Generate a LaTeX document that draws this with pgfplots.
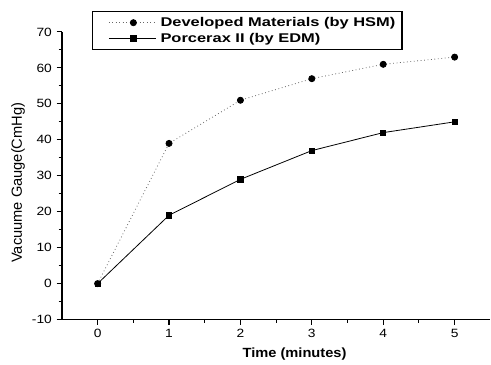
\documentclass[border=0pt]{standalone}
\usepackage{fontspec}
\setmainfont{Liberation Sans}
\newfontfamily\legfont{Liberation Sans Bold}[FakeStretch=1.3]
\newfontfamily\labfont{Liberation Sans Bold}[FakeStretch=1.1]
\newfontfamily\tickfont{Liberation Sans}[FakeStretch=1.15]
\usepackage{pgfplots}
\pgfplotsset{compat=1.18}
\begin{document}
\begin{tikzpicture}
\begin{axis}[
  scale only axis,
  width=321.75pt, height=216pt,
  xmin=-0.5, xmax=5.5, ymin=-10, ymax=70,
  axis x line=bottom, axis y line=left,
  axis line style={-, line width=1pt},
  xtick={0,1,2,3,4,5}, ytick={-10,0,10,20,30,40,50,60,70},
  minor x tick num=1, minor y tick num=1,
  tick align=outside,
  major tick length=4pt, minor tick length=2.5pt,
  tick style={line width=0.8pt, black},
  /pgf/number format/assume math mode=true,
  tick label style={font=\tickfont\fontsize{9}{10}\selectfont},
  xlabel={Time (minutes)},
  ylabel={Vacuume Gauge(CmHg)},
  xlabel style={font=\labfont\fontsize{10}{11}\selectfont, at={(axis description cs:0.543,0)}, anchor=center, yshift=-26pt},
  ylabel style={font=\fontsize{11}{12}\selectfont, at={([xshift=-33pt]axis description cs:0,0.476)}, anchor=center},
  legend style={at={(axis description cs:0.07,1.072)}, anchor=north west,
    font=\legfont\fontsize{9.5}{10}\selectfont, draw=black, line width=0.8pt,
    inner xsep=2pt, inner ysep=2pt, row sep=-0.5pt, cells={anchor=west},
    nodes={inner xsep=3pt}},
  legend image code/.code={%
    \path (0cm,0cm);
    \draw[mark repeat=2,mark phase=2] plot coordinates {(0.35cm,0cm)(1.0cm,0cm)(1.6cm,0cm)};},
  legend image post style={line width=0.6pt},
  clip=false,
]
\addplot[black!60, dotted, line width=0.6pt, mark=*, mark size=2.3pt, mark options={solid, fill=black, draw=black}]
  coordinates {(0,0) (1,39) (2,51) (3,57) (4,61) (5,63)};
\addlegendentry{Developed Materials (by HSM)}
\addplot[black, line width=0.6pt, mark=square*, mark size=2pt, mark options={solid, fill=black}]
  coordinates {(0,0) (1,19) (2,29) (3,37) (4,42) (5,45)};
\addlegendentry{Porcerax II (by EDM)}
\end{axis}
\useasboundingbox ([xshift=-46.5pt,yshift=-33.75pt]current axis.south west) rectangle ([yshift=24pt]current axis.north east);
\end{tikzpicture}
\end{document}
